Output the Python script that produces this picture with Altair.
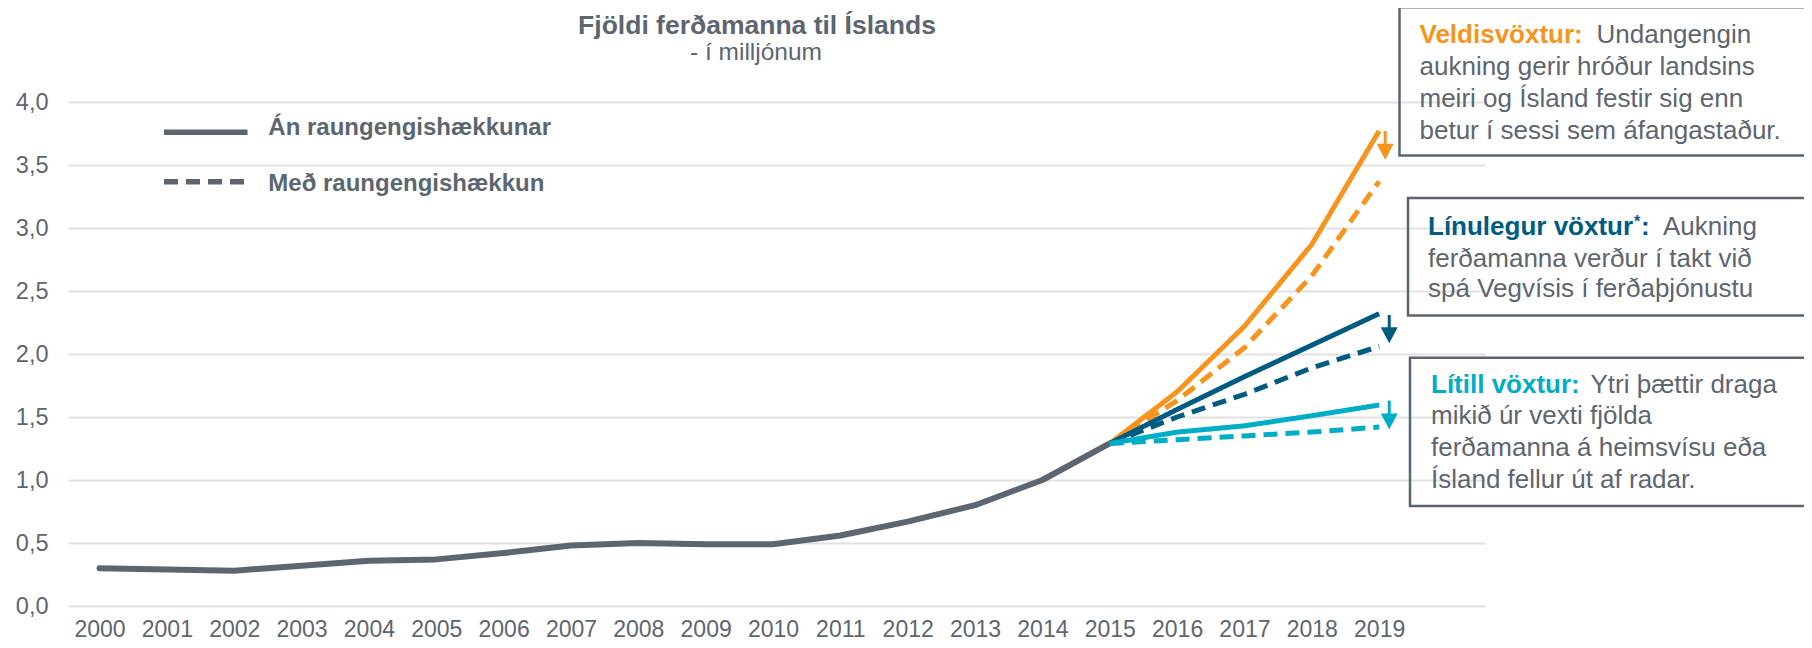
import altair as alt
import pandas as pd

# ---------------- data ----------------
years_hist = list(range(2000, 2016))
visitors_hist = [0.30, 0.29, 0.28, 0.32, 0.36, 0.37, 0.42, 0.48, 0.50, 0.49,
                 0.49, 0.56, 0.67, 0.80, 1.00, 1.29]

years_proj = [2015, 2016, 2017, 2018, 2019]
veldis_an = [1.29, 1.70, 2.22, 2.87, 3.77]
veldis_med = [1.29, 1.63, 2.05, 2.62, 3.37]
linu_an = [1.29, 1.56, 1.82, 2.07, 2.32]
linu_med = [1.29, 1.50, 1.68, 1.89, 2.06]
litill_an = [1.29, 1.38, 1.43, 1.51, 1.595]
litill_med = [1.29, 1.32, 1.35, 1.38, 1.42]

scenarios = ["Veldisvöxtur", "Línulegur vöxtur", "Lítill vöxtur"]
variants = ["Án raungengishækkunar", "Með raungengishækkun"]

arrow_year = [2019.09, 2019.15, 2019.15]
arrow_from = [3.77, 2.31, 1.63]
arrow_to = [3.54, 2.085, 1.40]

x_labels = list(range(2000, 2020))
y_ticks = [0.0, 0.5, 1.0, 1.5, 2.0, 2.5, 3.0, 3.5, 4.0]

title_text = "Fjöldi ferðamanna til Íslands"
subtitle_text = "- í milljónum"

box_heads = ["Veldisvöxtur:", "Línulegur vöxtur", "Lítill vöxtur:"]
box_first = ["Undangengin", "Aukning", "Ytri þættir draga"]
box_rest = [
    ["aukning gerir hróður landsins", "meiri og Ísland festir sig enn",
     "betur í sessi sem áfangastaður."],
    ["ferðamanna verður í takt við", "spá Vegvísis í ferðaþjónustu"],
    ["mikið úr vexti fjölda", "ferðamanna á heimsvísu eða",
     "Ísland fellur út af radar."],
]

# ---------------- style / layout ----------------
FONT = "Liberation Sans"
GRAY = "#5B6670"
TXT = "#5D6670"
GRID = "#E1E1E1"
BORDER = "#5A6570"
ORANGE = "#F7941D"
DBLUE = "#005B82"
CYAN = "#00ADC6"

W, H = 1417, 504
PAD = {"left": 60, "top": 94, "right": 319, "bottom": 34}
X_DOMAIN = [1999.532, 2020.572]
Y_DOMAIN = [0, 4]


def px_x(px):
    return X_DOMAIN[0] + (px - 8 - PAD["left"]) * (X_DOMAIN[1] - X_DOMAIN[0]) / W


def px_y(py):
    return Y_DOMAIN[1] - (py - 8 - PAD["top"]) * (Y_DOMAIN[1] - Y_DOMAIN[0]) / H


def xs():
    return alt.Scale(domain=X_DOMAIN, nice=False, zero=False)


def ys():
    return alt.Scale(domain=Y_DOMAIN, nice=False, zero=False)


def text_layer(df, **mark_kw):
    return alt.Chart(df).mark_text(
        align=mark_kw.pop("align", "left"), baseline="alphabetic", font=FONT, **mark_kw
    ).encode(
        x=alt.X("x:Q", scale=xs(), title=None),
        y=alt.Y("y:Q", scale=ys(), title=None),
        text="text:N",
    )


color_scale = alt.Scale(domain=scenarios, range=[ORANGE, DBLUE, CYAN])
dash_scale = alt.Scale(domain=variants, range=[[1, 0], [14, 8]])

# ---------------- layers ----------------
hist_df = pd.DataFrame({"year": years_hist, "value": visitors_hist})
hist = alt.Chart(hist_df).mark_line(
    color=GRAY, strokeWidth=6, strokeCap="round", strokeJoin="round"
).encode(
    x=alt.X("year:Q", scale=xs(), axis=alt.Axis(
        values=x_labels, format="d", title=None, grid=False, domain=False,
        ticks=False, labelFontSize=23, labelColor=TXT, labelFont=FONT,
        labelPadding=12, labelFlush=False, labelOverlap=False)),
    y=alt.Y("value:Q", scale=ys(), axis=alt.Axis(
        values=y_ticks, title=None, domain=False, ticks=False, grid=True,
        gridColor=GRID, gridWidth=2,
        labelExpr="replace(format(datum.value, '.1f'), '.', ',')",
        labelFontSize=23.5, labelColor=TXT, labelFont=FONT, labelPadding=20,
        labelOverlap=False)),
)

rows = []
for sc, an, med in zip(scenarios, [veldis_an, linu_an, litill_an],
                       [veldis_med, linu_med, litill_med]):
    for yr, v in zip(years_proj, an):
        rows.append({"scenario": sc, "variant": variants[0], "year": yr, "value": v})
    for yr, v in zip(years_proj, med):
        rows.append({"scenario": sc, "variant": variants[1], "year": yr, "value": v})
proj_df = pd.DataFrame(rows)

proj = alt.Chart(proj_df).mark_line(strokeWidth=5, strokeJoin="round").encode(
    x=alt.X("year:Q", scale=xs(), title=None),
    y=alt.Y("value:Q", scale=ys(), title=None),
    color=alt.Color("scenario:N", scale=color_scale, legend=None),
    strokeDash=alt.StrokeDash("variant:N", scale=dash_scale, legend=None),
)

arrow_df = pd.DataFrame({"scenario": scenarios, "year": arrow_year,
                         "top": arrow_from, "tip": arrow_to})
arrow_shaft = alt.Chart(arrow_df).transform_calculate(
    shaft_end="datum.tip + 0.08"
).mark_rule(strokeWidth=3).encode(
    x=alt.X("year:Q", scale=xs(), title=None),
    y=alt.Y("top:Q", scale=ys(), title=None),
    y2="shaft_end:Q",
    color=alt.Color("scenario:N", scale=color_scale, legend=None),
)
arrow_head = alt.Chart(arrow_df).mark_point(
    shape="M-1,-1.9L1,-1.9L0,0Z", size=289, filled=True, opacity=1, strokeWidth=0
).encode(
    x=alt.X("year:Q", scale=xs(), title=None),
    y=alt.Y("tip:Q", scale=ys(), title=None),
    color=alt.Color("scenario:N", scale=color_scale, legend=None),
)

# legend (drawn inside the plot, top-left)
leg_df = pd.DataFrame({
    "variant": variants,
    "x1": [px_x(164), px_x(164)],
    "x2": [px_x(247.5), px_x(247.5)],
    "ly": [px_y(132.3), px_y(181.7)],
    "x": [px_x(268.3), px_x(268.3)],
    "y": [px_y(135), px_y(190.5)],
    "text": variants,
})
leg_lines = alt.Chart(leg_df).mark_rule(strokeWidth=5.5, color=GRAY).encode(
    x=alt.X("x1:Q", scale=xs(), title=None), x2="x2:Q",
    y=alt.Y("ly:Q", scale=ys(), title=None),
    strokeDash=alt.StrokeDash("variant:N", scale=dash_scale, legend=None),
)
leg_text = text_layer(leg_df, fontSize=24, fontWeight="bold", color=GRAY)

# chart title and subtitle
title_df = pd.DataFrame({"x": [px_x(757)], "y": [px_y(34)], "text": [title_text]})
sub_df = pd.DataFrame({"x": [px_x(756)], "y": [px_y(59.5)], "text": [subtitle_text]})
title_mark = text_layer(title_df, align="center", fontSize=26.5, fontWeight="bold", color=GRAY)
sub_mark = text_layer(sub_df, align="center", fontSize=24.5, color=GRAY)

# annotation boxes
box_df = pd.DataFrame({
    "bx1": [px_x(1399.5), px_x(1408), px_x(1410)],
    "bx2": [px_x(1900), px_x(1900), px_x(1900)],
    "by1": [px_y(7.3), px_y(198), px_y(357.7)],
    "by2": [px_y(155.5), px_y(315.5), px_y(506)],
})
boxes = alt.Chart(box_df).mark_rect(
    fillOpacity=0, stroke=BORDER, strokeWidth=2.5
).encode(
    x=alt.X("bx1:Q", scale=xs(), title=None), x2="bx2:Q",
    y=alt.Y("by1:Q", scale=ys(), title=None), y2="by2:Q",
)

text_left = [1419.5, 1428, 1431]
first_offset = [177, 235, 159.5]
baselines = [[42.7, 74.5, 106.8, 139.1], [235, 266.5, 297],
             [392.7, 424.3, 456, 488.3]]

head_df = pd.DataFrame({
    "scenario": scenarios,
    "x": [px_x(t) for t in text_left],
    "y": [px_y(b[0]) for b in baselines],
    "text": box_heads,
})
heads = alt.Chart(head_df).mark_text(
    align="left", baseline="alphabetic", font=FONT, fontSize=26, fontWeight="bold"
).encode(
    x=alt.X("x:Q", scale=xs(), title=None),
    y=alt.Y("y:Q", scale=ys(), title=None),
    text="text:N",
    color=alt.Color("scenario:N", scale=color_scale, legend=None),
)

star_df = pd.DataFrame({
    "scenario": [scenarios[1], scenarios[1]],
    "x": [px_x(text_left[1] + 206), px_x(text_left[1] + 213)],
    "y": [px_y(baselines[1][0] - 8), px_y(baselines[1][0])],
    "text": ["*", ":"],
    "size": [16, 26],
})
star = alt.Chart(star_df).mark_text(
    align="left", baseline="alphabetic", font=FONT, fontWeight="bold"
).encode(
    x=alt.X("x:Q", scale=xs(), title=None),
    y=alt.Y("y:Q", scale=ys(), title=None),
    text="text:N",
    size=alt.Size("size:Q", scale=None, legend=None),
    color=alt.Color("scenario:N", scale=color_scale, legend=None),
)

reg_rows = []
for i in range(3):
    reg_rows.append({"x": px_x(text_left[i] + first_offset[i]),
                     "y": px_y(baselines[i][0]), "text": box_first[i]})
    for j, line in enumerate(box_rest[i]):
        reg_rows.append({"x": px_x(text_left[i]), "y": px_y(baselines[i][j + 1]),
                         "text": line})
reg_df = pd.DataFrame(reg_rows)
regular = text_layer(reg_df, fontSize=26, color=TXT)

chart = alt.layer(
    hist, proj, arrow_shaft, arrow_head, leg_lines, leg_text, title_mark, sub_mark,
    boxes, heads, star, regular
).properties(
    width=W, height=H,
    padding=PAD,
    autosize=alt.AutoSizeParams(type="none"),
).configure_view(stroke=None)

chart.save("out.html", embed_options={"renderer": "svg", "actions": False})
